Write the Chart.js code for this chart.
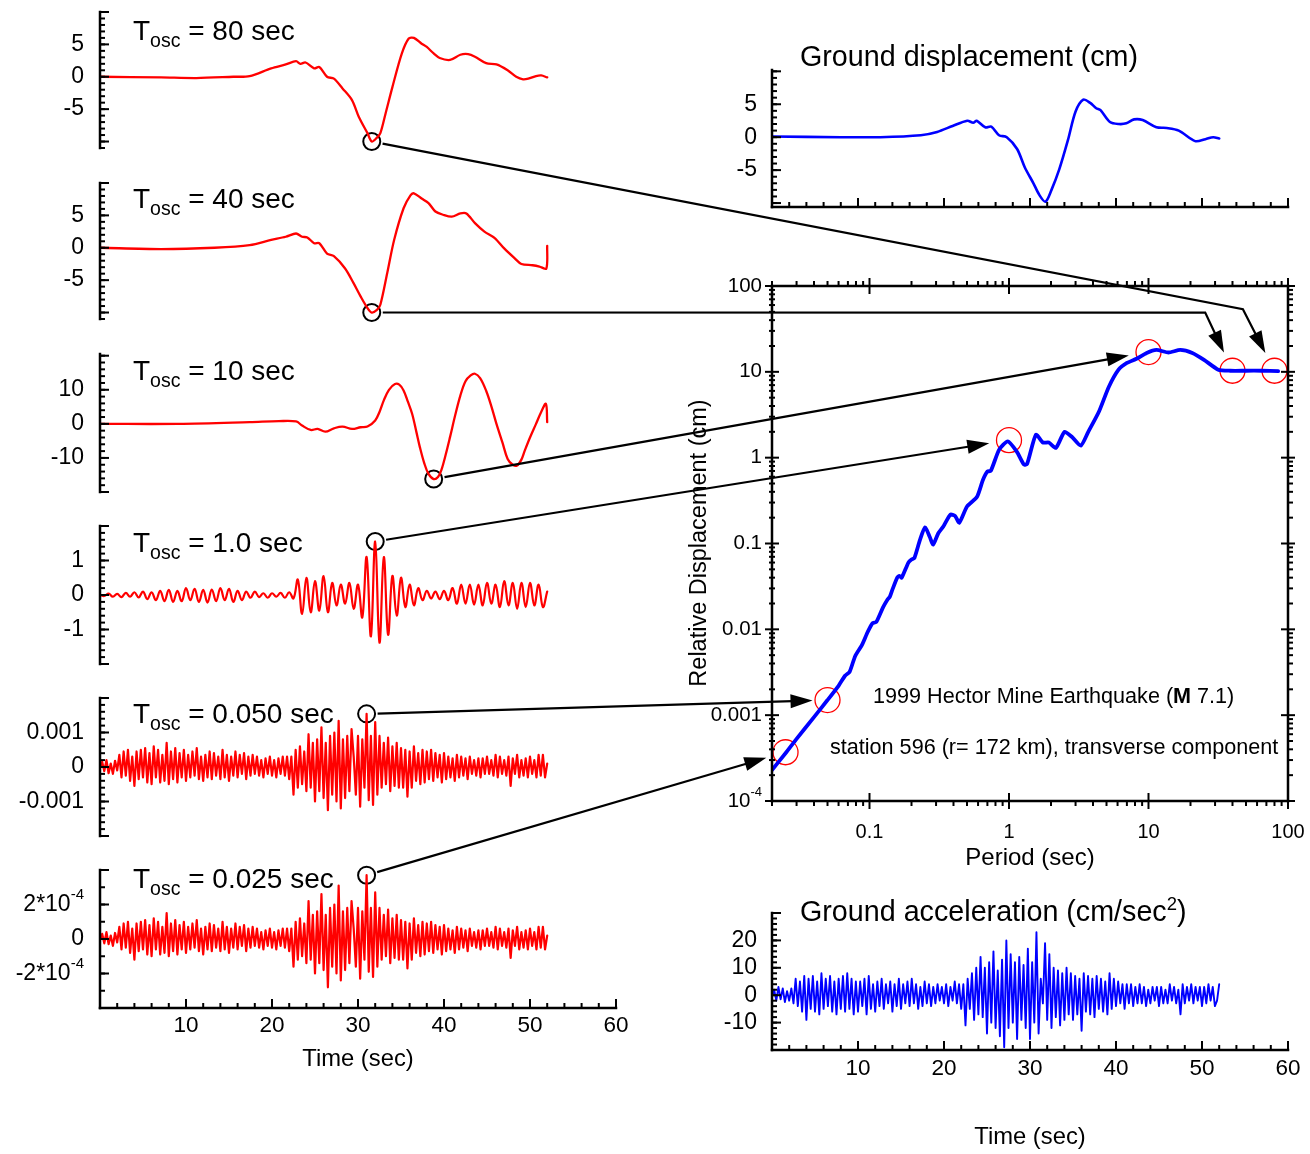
<!DOCTYPE html>
<html>
<head>
<meta charset="utf-8">
<script src="https://cdn.jsdelivr.net/npm/chart.js"></script>
<style>
html, body { margin: 0; padding: 0; background: #fff; }
#stage { position: relative; width: 1310px; height: 1154px; overflow: hidden; background: #fff; }
#stage canvas { position: absolute; left: 0; top: 0; }
</style>
</head>
<body>
<div id="stage"></div>
<script>
// ---- data ----

// oscillator periods of the left column
var oscLabels = ['80 sec', '40 sec', '10 sec', '1.0 sec', '0.050 sec', '0.025 sec'];

// Tosc = 80 s, relative displacement (cm)
var t80 = [0, 7.1, 11.2, 15.5, 17.4, 19.9, 21.6, 22.8, 23.3, 23.9, 24.9, 25.5, 26.4, 27.2, 28.2, 29.3, 30.1, 31.1, 31.6, 32.2, 32.6, 33.2, 34.0, 35.1, 35.9, 36.5, 37.4, 38.0, 38.8, 39.5, 40.7, 41.9, 42.8, 43.6, 44.9, 46.1, 47.4, 48.4, 49.2, 49.8, 50.7, 51.3, 52.0];
var d80 = [0, -0.1, -0.2, 0, 0.1, 1.3, 1.9, 2.4, 2.0, 2.2, 1.3, 1.5, 0, -0.3, -1.8, -3.6, -6.2, -8.7, -10.0, -9.4, -8.7, -5.7, -1.6, 3.6, 5.9, 6.0, 5.1, 4.6, 3.6, 2.9, 2.6, 3.4, 3.5, 3.1, 2.1, 1.9, 1.0, 0, -0.4, -0.3, 0.1, 0.2, -0.1];

// Tosc = 40 s
var t40 = [0, 7.1, 13.3, 17.4, 19.9, 21.6, 22.8, 23.5, 24.1, 24.9, 25.5, 26.4, 27.2, 28.5, 29.5, 30.3, 31.1, 31.6, 32.2, 32.6, 33.4, 34.2, 35.3, 36.1, 36.5, 37.4, 38.2, 39.0, 39.9, 40.9, 41.9, 42.6, 43.6, 44.7, 45.9, 47.0, 48.2, 49.0, 50.3, 51.1, 51.9, 52.0];
var d40 = [0, -0.2, 0, 0.4, 1.2, 1.7, 2.2, 1.7, 1.6, 0.7, 0.7, -0.9, -1.3, -3.2, -5.5, -7.5, -9.3, -10.0, -9.6, -8.8, -3.9, 1.2, 6.1, 8.1, 8.4, 7.6, 6.9, 5.6, 5.1, 4.8, 5.3, 5.3, 3.8, 2.5, 1.5, -0.1, -1.6, -2.5, -2.7, -2.9, -3.2, 0.3];

// Tosc = 10 s
var t10 = [0, 9.1, 17.4, 20.8, 22.8, 23.5, 24.5, 25.3, 26.2, 27.2, 28.2, 29.3, 30.3, 31.1, 32.0, 32.5, 33.0, 33.6, 34.3, 34.8, 35.3, 35.8, 36.3, 36.8, 37.2, 37.7, 38.2, 38.8, 39.3, 39.7, 40.2, 40.7, 41.3, 41.9, 42.5, 43.1, 43.6, 44.2, 44.9, 45.5, 46.1, 46.8, 47.4, 48.0, 48.5, 49.0, 49.4, 50.0, 50.7, 51.3, 51.85, 52.0];
var d10 = [0, 0, 0.5, 0.8, 0.7, -0.5, -1.8, -1.5, -2.3, -1.3, -0.8, -1.5, -1.0, -0.8, 1.0, 3.5, 6.9, 10.0, 11.7, 11.5, 9.8, 6.5, 2.9, -2.5, -6.9, -11.5, -14.7, -16.2, -15.6, -13.5, -9.0, -3.9, 2.5, 8.3, 12.5, 14.2, 14.7, 13.4, 9.7, 5.2, 0, -5.5, -10.3, -12.0, -12.2, -10.5, -7.8, -4.0, 0, 3.5, 5.9, 0.5];

// Tosc = 1.0 s, one value every 0.5 s
var dt1 = 0.5;
var d1 = [0, -0.03, 0.04, -0.05, 0.03, -0.06, 0.06, -0.05, 0.08, -0.07,
  0.1, -0.12, 0.08, -0.15, 0.12, -0.18, 0.15, -0.2, 0.12, -0.18,
  0.2, -0.15, 0.18, -0.2, 0.15, -0.22, 0.16, -0.18, 0.2, -0.15,
  0.18, -0.2, 0.12, -0.15, 0.1, -0.08, 0.1, -0.06, 0.05, -0.08,
  0.05, -0.05, 0.06, -0.08, 0.08, -0.1, 0.45, -0.55, 0.5, -0.5,
  0.4, -0.45, 0.55, -0.5, 0.35, -0.3, 0.3, -0.25, 0.35, -0.4,
  0.3, -0.65, 1.1, -1.2, 1.55, -1.38, 1.1, -1.15, 0.55, -0.6,
  0.5, -0.35, 0.3, -0.3, 0.2, -0.15, 0.12, -0.1, 0.1, -0.12,
  0.12, -0.15, 0.2, -0.25, 0.3, -0.25, 0.3, -0.28, 0.3, -0.3,
  0.35, -0.25, 0.3, -0.35, 0.4, -0.3, 0.35, -0.4, 0.35, -0.35,
  0.35, -0.3, 0.3, -0.35, 0.1];

// fast traces, one value every 0.25 s
var dtFast = 0.25;
// Tosc = 0.050 s, in units of 0.001 cm
var d005 = [0, 0.15, -0.12, 0.2, -0.18, 0.1, -0.2, 0.18, -0.1, 0.35, -0.3, 0.45, -0.25, 0.5, -0.4, 0.3, -0.55, 0.45, -0.35, 0.5,
  -0.3, 0.55, -0.45, 0.4, -0.5, 0.6, -0.3, 0.5, -0.45, 0.35, -0.4, 0.7, -0.5, 0.45, -0.35, 0.55, -0.45, 0.4, -0.3, 0.5,
  -0.4, 0.35, -0.3, 0.45, -0.25, 0.55, -0.35, 0.3, -0.4, 0.35, -0.3, 0.45, -0.35, 0.4, -0.25, 0.3, -0.35, 0.5, -0.3, 0.35,
  -0.4, 0.3, -0.25, 0.45, -0.3, 0.35, -0.2, 0.4, -0.35, 0.3, -0.25, 0.35, -0.2, 0.3, -0.25, 0.2, -0.3, 0.25, -0.2, 0.3,
  -0.25, 0.2, -0.3, 0.25, -0.2, 0.3, -0.25, 0.3, -0.35, 0.3, -0.8, 0.5, -0.6, 0.6, -0.5, 0.45, -0.7, 0.95, -0.6, 0.7,
  -1.0, 0.8, -0.7, 1.15, -0.9, 0.7, -1.25, 0.9, -0.8, 1.0, -1.0, 1.34, -1.2, 0.8, -0.9, 0.9, -0.7, 1.1, 0.3, -0.8,
  0.9, -1.15, 0.8, -0.6, 1.54, -0.96, 0.9, -1.1, 1.3, -0.8, 0.9, -0.6, 0.7, -0.5, 0.85, -0.7, 0.6, -0.55, 0.7, -0.6,
  0.55, -0.6, 0.5, -0.86, 0.45, -0.6, 0.6, -0.4, 0.4, -0.5, 0.5, -0.45, 0.45, -0.35, 0.5, -0.4, 0.4, -0.3, 0.35, -0.45,
  0.4, -0.35, 0.3, -0.3, 0.25, -0.4, 0.35, -0.3, 0.3, -0.25, 0.25, -0.35, 0.3, -0.2, 0.2, -0.25, 0.25, -0.3, 0.25, -0.2,
  0.3, -0.2, 0.2, -0.25, 0.35, -0.3, 0.3, -0.2, 0.2, -0.25, 0.3, -0.55, 0.25, -0.2, 0.35, -0.3, 0.2, -0.25, 0.25, -0.3,
  0.3, -0.2, 0.2, -0.3, 0.35, -0.25, 0.35, -0.3, 0.1];
// Tosc = 0.025 s, in units of 1e-4 cm
var d0025 = [0, 0.3, -0.25, 0.4, -0.3, 0.2, -0.4, 0.35, -0.2, 0.7, -0.6, 0.9, -0.5, 1.0, -0.8, 0.6, -1.2, 0.9, -0.7, 1.0,
  -0.6, 1.1, -0.9, 0.8, -1.0, 1.2, -0.6, 1.0, -0.9, 0.7, -0.8, 1.5, -1.0, 0.9, -0.7, 1.1, -0.9, 0.8, -0.6, 1.0,
  -0.8, 0.7, -0.6, 0.9, -0.5, 1.1, -0.7, 0.6, -0.9, 0.7, -0.6, 0.9, -0.7, 0.8, -0.5, 0.6, -0.7, 1.0, -0.6, 0.7,
  -0.8, 0.6, -0.5, 0.9, -0.6, 0.7, -0.4, 0.8, -0.7, 0.6, -0.5, 0.7, -0.4, 0.6, -0.5, 0.4, -0.6, 0.5, -0.4, 0.6,
  -0.5, 0.4, -0.6, 0.5, -0.4, 0.6, -0.5, 0.6, -0.7, 0.6, -1.6, 1.0, -1.2, 1.2, -1.0, 0.9, -1.4, 2.2, -1.2, 1.4,
  -2.0, 1.6, -1.4, 2.6, -1.8, 1.4, -2.8, 1.8, -1.6, 2.0, -2.0, 3.1, -2.4, 1.6, -1.8, 1.8, -1.4, 2.2, 0.6, -1.6,
  1.8, -2.3, 1.6, -1.2, 3.7, -1.9, 1.8, -2.2, 2.7, -1.6, 1.8, -1.2, 1.4, -1.0, 1.7, -1.4, 1.2, -1.1, 1.4, -1.2,
  1.1, -1.2, 1.0, -1.7, 0.9, -1.2, 1.2, -0.8, 0.8, -1.0, 1.0, -0.9, 0.9, -0.7, 1.0, -0.8, 0.8, -0.6, 0.7, -0.9,
  0.8, -0.7, 0.6, -0.6, 0.5, -0.8, 0.7, -0.6, 0.6, -0.5, 0.5, -0.7, 0.6, -0.4, 0.4, -0.5, 0.5, -0.6, 0.5, -0.4,
  0.6, -0.4, 0.4, -0.5, 0.7, -0.6, 0.6, -0.4, 0.4, -0.5, 0.6, -1.1, 0.5, -0.4, 0.7, -0.6, 0.4, -0.5, 0.5, -0.6,
  0.6, -0.4, 0.4, -0.6, 0.7, -0.5, 0.7, -0.6, 0.2];
// ground acceleration (cm/sec^2)
var acc = [0, 2, -2, 3, -1.5, 2.5, -2.5, 1.5, -2, 2.5, -3, 6, -4, 5, -6, 7, -9, 6, -5, 7,
  -6, 5, -7, 8, -5, 6, -4, 7, -6, 5, -7, 6, -5, 7, -6, 8, -5, 6, -7, 5,
  -6, 5, -4, 6, -7, 7, -5, 4, -6, 5, -4, 6, -5, 4, -3, 5, -6, 4, -4, 6,
  -5, 4, -3, 5, -4, 6, -3, 4, -5, 3, -4, 5, -3, 4, -4, 3, -3, 4, -2, 3,
  -3, 4, -4, 3, -2, 5, -3, 4, -5, 4, -11, 6, -5, 8, -9, 10, -7, 14, -8, 10,
  -14, 12, -10, 16, -12, 9, -15, 13, -19, 20, -12, 15, -10, 12, -16, 14, -9, 11, -12, 17,
  -16, 12, -10, 23, -14, 6, -3, 19, -9, 15, -12, 10, -8, 9, -11, 8, -9, 10, -7, 8,
  -9, 7, -7, 6, -13, 8, -6, 7, -7, 6, -8, 7, -5, 6, -6, 5, -7, 8, -5, 6,
  -4, 5, -3, 4, -5, 4, -3, 4, -4, 3, -3, 4, -3, 3, -4, 2, -3, 3, -2, 3,
  -4, 3, -3, 2, -3, 4, -2, 3, -3, 2, -7, 4, -3, 3, -2, 4, -3, 3, -2, 3,
  -4, 3, -3, 4, -2, 3, -4, -2, 4];

// ground displacement (cm)
var tGd = [0, 8.0, 12.6, 17.3, 19.2, 21.0, 22.7, 23.4, 23.8, 24.8, 25.5, 26.4, 27.3, 28.5, 29.4, 30.4, 31.1, 31.8, 32.5, 33.4, 34.4, 35.3, 36.2, 37.0, 37.7, 38.2, 39.3, 40.3, 41.2, 42.1, 43.1, 44.7, 45.9, 47.3, 49.2, 50.4, 51.3, 52.0];
var gd = [0.1, 0, 0, 0.3, 0.8, 1.7, 2.5, 2.2, 2.5, 1.5, 1.6, 0.3, 0, -1.8, -4.6, -7.0, -8.8, -9.8, -8.0, -4.9, -0.5, 3.9, 5.7, 5.2, 4.4, 4.1, 2.3, 2.0, 2.1, 2.7, 2.6, 1.5, 1.4, 1.0, -0.6, -0.3, 0, -0.2];

// response spectrum: period (sec) and relative displacement (cm)
var specT = [0.02, 0.025, 0.03, 0.04, 0.05, 0.06, 0.067, 0.072, 0.079, 0.088,
  0.097, 0.105, 0.112, 0.125, 0.134, 0.14, 0.146, 0.158, 0.164, 0.17,
  0.19, 0.2, 0.21, 0.23, 0.25, 0.27, 0.286, 0.31, 0.34, 0.38,
  0.41, 0.44, 0.5, 0.59, 0.65, 0.7, 0.74, 0.85, 0.98, 1.14,
  1.28, 1.35, 1.56, 1.75, 1.93, 2.17, 2.5, 2.82, 3.27, 3.7,
  4.4, 5.2, 6.1, 7.0, 8.2, 9.7, 11.4, 13.9, 16.9, 20.6,
  25, 31.6, 38.5, 50, 65, 85];
var specSD = [2.3e-4, 3.6e-4, 5.3e-4, 9.5e-4, 1.5e-3, 2.2e-3, 2.9e-3, 3.2e-3, 4.9e-3, 6.5e-3,
  9.3e-3, 0.0118, 0.0122, 0.018, 0.022, 0.024, 0.029, 0.04, 0.042, 0.04,
  0.06, 0.065, 0.068, 0.11, 0.154, 0.12, 0.097, 0.13, 0.16, 0.217,
  0.21, 0.175, 0.27, 0.35, 0.55, 0.69, 0.7, 1.24, 1.55, 1.17,
  0.83, 0.85, 1.85, 1.5, 1.5, 1.3, 2.0, 1.75, 1.38, 2.0,
  3.4, 6.7, 10.6, 12.7, 14.2, 16.6, 18, 16.8, 18, 16.6,
  13.8, 10.6, 10.3, 10.3, 10.3, 10.2];

// peak of each oscillator trace (black circles), same units as the traces
var markT = [31.6, 31.6, 38.8, 32.0, 31.0, 31.0];
var markV = [-10, -10, -16.2, 1.55, 1.54, 3.7];
// the same peaks on the spectrum (red circles)
var markP = [80, 40, 10, 1.0, 0.05, 0.025];
var markSD = [10.3, 10.3, 17, 1.6, 1.5e-3, 3.7e-4];
// bends of the two upper leader lines (period, cm) and the gap left before each red circle
var leaderBend = [[47.5, 53.6], [25.5, 49], null, null, null, null];
var leaderGap = [20, 20, 20, 20, 15, 20];

// tick labels
var timeTicks = [10, 20, 30, 40, 50, 60];
var timeText = ['10', '20', '30', '40', '50', '60'];
var oscTickVals = [[5, 0, -5], [5, 0, -5], [10, 0, -10], [1, 0, -1], [1, 0, -1], [2, 0, -2]];
var oscTickText = [['5', '0', '-5'], ['5', '0', '-5'], ['10', '0', '-10'], ['1', '0', '-1'], ['0.001', '0', '-0.001'], ['2*10^-4', '0', '-2*10^-4']];
var gdTickVals = [5, 0, -5], gdTickText = ['5', '0', '-5'];
var accTickVals = [20, 10, 0, -10], accTickText = ['20', '10', '0', '-10'];
var sdTickVals = [100, 10, 1, 0.1, 0.01, 0.001, 1e-4];
var sdTickText = ['100', '10', '1', '0.1', '0.01', '0.001', '10^-4'];
var perTickVals = [0.1, 1, 10, 100], perTickText = ['0.1', '1', '10', '100'];

// ---- drawing ----
var W = 1310, H = 1154;
var FONT = '"Liberation Sans", Arial, Helvetica, sans-serif';
var stage = document.getElementById('stage');

function steps(a, b, s) {
  var out = [];
  for (var v = a; v <= b + s / 1000; v += s) out.push(+v.toFixed(6));
  return out;
}
function decades(lo, hi) {
  var out = [];
  for (var e = lo; e < hi; e++) for (var m = 2; m <= 9; m++) out.push(+(m * Math.pow(10, e)).toPrecision(3));
  return out;
}
function pairs(ts, vs) { return vs.map(function (v, i) { return { x: ts[i], y: v }; }); }
function even(dt, vs) { return vs.map(function (v, i) { return { x: i * dt, y: v }; }); }

// text with an optional ^superscript
function rich(ctx, str, size, x, y, align) {
  var parts = str.split('^');
  var ss = Math.round(size * 0.65);
  ctx.font = size + 'px ' + FONT;
  var wb = ctx.measureText(parts[0]).width, ws = 0;
  if (parts[1]) { ctx.font = ss + 'px ' + FONT; ws = ctx.measureText(parts[1]).width; }
  var x0 = align === 'right' ? x - wb - ws : align === 'center' ? x - (wb + ws) / 2 : x;
  ctx.textAlign = 'left';
  ctx.font = size + 'px ' + FONT;
  ctx.fillText(parts[0], x0, y);
  if (parts[1]) { ctx.font = ss + 'px ' + FONT; ctx.fillText(parts[1], x0 + wb, y - size * 0.42); }
}

function spans(ctx, t) {
  ctx.save();
  ctx.translate(t.x, t.y);
  if (t.rot) ctx.rotate(t.rot);
  ctx.textBaseline = t.base || 'alphabetic';
  ctx.textAlign = 'left';
  var fontOf = function (p) { return (p[3] ? 'bold ' : '') + p[1] + 'px ' + FONT; };
  var w = 0;
  t.parts.forEach(function (p) { ctx.font = fontOf(p); w += ctx.measureText(p[0]).width; });
  var x = t.align === 'center' ? -w / 2 : 0;
  t.parts.forEach(function (p) {
    ctx.font = fontOf(p);
    ctx.fillText(p[0], x, p[2] || 0);
    x += ctx.measureText(p[0]).width;
  });
  ctx.restore();
}

function drawAxis(ctx, chart, ax) {
  var a = chart.chartArea;
  var vert = ax.pos === 'left' || ax.pos === 'right';
  var sc = vert ? chart.scales.y : chart.scales.x;
  var base = a[ax.pos];
  var inw = (ax.pos === 'left' || ax.pos === 'top') ? 1 : -1;
  var lw = ax.lw || 2.5;
  ctx.lineWidth = lw;
  ctx.beginPath();
  if (vert) { ctx.moveTo(base, a.top - lw / 2); ctx.lineTo(base, a.bottom + lw / 2); }
  else { ctx.moveTo(a.left - lw / 2, base); ctx.lineTo(a.right + lw / 2, base); }
  ctx.stroke();
  ctx.lineWidth = ax.tw || 2;
  function tick(v, len, mode) {
    var p = sc.getPixelForValue(v);
    var r = mode === 'in' ? [0, len] : mode === 'out' ? [-len, 0] : [-len, len];
    ctx.beginPath();
    if (vert) { ctx.moveTo(base + inw * r[0], p); ctx.lineTo(base + inw * r[1], p); }
    else { ctx.moveTo(p, base + inw * r[0]); ctx.lineTo(p, base + inw * r[1]); }
    ctx.stroke();
  }
  (ax.minor || []).forEach(function (v) { tick(v, ax.minLen || 5, ax.minMode || ax.mode); });
  (ax.major || []).forEach(function (v) { tick(v, ax.majLen || 9, ax.mode); });
  if (ax.labels) {
    ctx.textBaseline = 'middle';
    ax.labels[0].forEach(function (v, i) {
      var p = sc.getPixelForValue(v);
      if (vert) rich(ctx, ax.labels[1][i], ax.size, base - ax.gap, p, 'right');
      else rich(ctx, ax.labels[1][i], ax.size, p, base + ax.gap, 'center');
    });
  }
}

function framePlugin(cfg) {
  return {
    id: 'frame',
    afterDraw: function (chart) {
      var ctx = chart.ctx;
      ctx.save();
      ctx.strokeStyle = '#000';
      ctx.fillStyle = '#000';
      ctx.lineCap = 'butt';
      (cfg.axes || []).forEach(function (ax) { drawAxis(ctx, chart, ax); });
      (cfg.texts || []).forEach(function (t) { spans(ctx, t); });
      ctx.restore();
    }
  };
}

function plot(rect, xs, ys, datasets, cfg) {
  var c = document.createElement('canvas');
  c.width = W; c.height = H;
  stage.appendChild(c);
  return new Chart(c, {
    type: 'line',
    data: { datasets: datasets },
    options: {
      responsive: false, animation: false, events: [], devicePixelRatio: 1,
      layout: { padding: { left: rect[0], top: rect[1], right: W - rect[2], bottom: H - rect[3] } },
      scales: { x: Object.assign({ display: false }, xs), y: Object.assign({ display: false }, ys) },
      plugins: { legend: { display: false }, tooltip: { enabled: false } },
      elements: { point: { radius: 0 } }
    },
    plugins: [framePlugin(cfg)]
  });
}

function trace(data, color, width, tension) {
  return { data: data, borderColor: color, borderWidth: width, tension: tension, pointRadius: 0,
    fill: false, borderJoinStyle: 'round', borderCapStyle: 'round' };
}
function rings(data, color, r, w) {
  return { data: data, showLine: false, pointRadius: r, pointHoverRadius: r, pointStyle: 'circle',
    pointBorderColor: color, pointBackgroundColor: 'rgba(0,0,0,0)', pointBorderWidth: w,
    borderColor: color, clip: false };
}

// left column: oscillator responses
var RED = '#ff0000', BLUE = '#0000ff';
var oscRects = [[100, 12, 616, 148], [100, 183, 616, 319], [100, 354, 616, 492], [100, 526, 616, 664], [100, 698, 616, 836], [100, 870, 616, 1008]];
var oscRange = [[-11, 10], [-11, 10], [-20, 20.5], [-2, 2], [-2, 2], [-4, 4]];
var oscMajor = [steps(-10, 10, 5), steps(-10, 10, 5), steps(-20, 20, 10), steps(-2, 2, 1), steps(-2, 2, 1), steps(-4, 4, 2)];
var oscMinor = [steps(-11, 10, 1), steps(-11, 10, 1), steps(-20, 20, 2), steps(-2, 2, 0.2), steps(-2, 2, 0.2), steps(-4, 4, 1)];
var oscTitleY = [40, 208, 380, 552, 723, 888];
var oscData = [pairs(t80, d80), pairs(t40, d40), pairs(t10, d10), even(dt1, d1), even(dtFast, d005), even(dtFast, d0025)];
var oscWidth = [2.3, 2.3, 2.3, 2.2, 2.2, 2.2];
var oscTension = [0.3, 0.3, 0.35, 0.4, 0, 0];

var oscCharts = oscData.map(function (data, k) {
  var axes = [{ pos: 'left', major: oscMajor[k], minor: oscMinor[k], mode: 'in', majLen: 9, minLen: 5,
    labels: [oscTickVals[k], oscTickText[k]], size: 23, gap: 16 }];
  var texts = [{ x: 133, y: oscTitleY[k], parts: [['T', 28], ['osc', 19.5, 7], [' = ' + oscLabels[k], 28]] }];
  if (k === 5) {
    axes.push({ pos: 'bottom', major: timeTicks, minor: steps(0, 60, 2), mode: 'in', majLen: 9, minLen: 5,
      labels: [timeTicks, timeText], size: 22.5, gap: 18 });
    texts.push({ x: 358, y: 1059, align: 'center', base: 'middle', parts: [['Time (sec)', 23.8]] });
  }
  return plot(oscRects[k], { type: 'linear', min: 0, max: 60 }, { type: 'linear', min: oscRange[k][0], max: oscRange[k][1] },
    [trace(data, RED, oscWidth[k], oscTension[k]), rings([{ x: markT[k], y: markV[k] }], '#000', 8.5, 2)],
    { axes: axes, texts: texts });
});

// ground displacement
plot([772, 70, 1288, 207], { type: 'linear', min: 0, max: 60 }, { type: 'linear', min: -10.6, max: 10.2 },
  [trace(pairs(tGd, gd), BLUE, 2.6, 0.3)],
  { axes: [
      { pos: 'left', major: steps(-10, 10, 5), minor: steps(-10, 10, 1), mode: 'in', labels: [gdTickVals, gdTickText], size: 23, gap: 15 },
      { pos: 'bottom', major: timeTicks, minor: steps(0, 60, 2), mode: 'in' }],
    texts: [{ x: 800, y: 66, parts: [['Ground displacement (cm)', 28.7]] }] });

// response spectrum
var spec = plot([772, 286, 1288, 801], { type: 'logarithmic', min: 0.02, max: 100 }, { type: 'logarithmic', min: 1e-4, max: 100 },
  [trace(pairs(specT, specSD), BLUE, 3.8, 0.2),
   rings(markP.map(function (p, i) { return { x: p, y: markSD[i] }; }), RED, 12.5, 1.3)],
  { axes: [
      { pos: 'left', major: sdTickVals, minor: decades(-4, 2), mode: 'both', minMode: 'both', majLen: 7, minLen: 3,
        labels: [sdTickVals, sdTickText], size: 20.5, gap: 10 },
      { pos: 'right', major: sdTickVals, minor: decades(-4, 2), mode: 'both', minMode: 'out', majLen: 7, minLen: 5 },
      { pos: 'bottom', major: perTickVals, minor: decades(-2, 2), mode: 'both', minMode: 'out', majLen: 8, minLen: 5,
        labels: [perTickVals, perTickText], size: 20, gap: 31 },
      { pos: 'top', major: perTickVals, minor: decades(-2, 2), mode: 'both', minMode: 'out', majLen: 8, minLen: 5 }],
    texts: [
      { x: 700, y: 543, rot: -Math.PI / 2, align: 'center', base: 'middle', parts: [['Relative Displacement (cm)', 23.5]] },
      { x: 1030, y: 858, align: 'center', base: 'middle', parts: [['Period (sec)', 24]] },
      { x: 873, y: 703, parts: [['1999 Hector Mine Earthquake (', 21.6], ['M', 21.6, 0, true], [' 7.1)', 21.6]] },
      { x: 830, y: 754, parts: [['station 596 (r= 172 km), transverse component', 21.6]] }] });

// ground acceleration
plot([772, 913, 1288, 1050], { type: 'linear', min: 0, max: 60 }, { type: 'linear', min: -20, max: 30 },
  [trace(even(dtFast, acc), BLUE, 1.9, 0)],
  { axes: [
      { pos: 'left', major: steps(-20, 30, 10), minor: steps(-20, 30, 2), mode: 'in', labels: [accTickVals, accTickText], size: 23, gap: 15 },
      { pos: 'bottom', major: timeTicks, minor: steps(0, 60, 2), mode: 'in', labels: [timeTicks, timeText], size: 22.5, gap: 19 }],
    texts: [
      { x: 800, y: 921, parts: [['Ground acceleration (cm/sec', 28.7], ['2', 18.5, -11], [')', 28.7]] },
      { x: 1030, y: 1137, align: 'center', base: 'middle', parts: [['Time (sec)', 23.8]] }] });

// leader arrows from each oscillator peak to its spectral value
(function () {
  var c = document.createElement('canvas');
  c.width = W; c.height = H;
  stage.appendChild(c);
  var ctx = c.getContext('2d');
  ctx.strokeStyle = '#000'; ctx.fillStyle = '#000'; ctx.lineWidth = 2.2; ctx.lineJoin = 'miter';
  var sx = spec.scales.x, sy = spec.scales.y;
  function unit(a, b) { var dx = b[0] - a[0], dy = b[1] - a[1], L = Math.hypot(dx, dy); return [dx / L, dy / L]; }
  markT.forEach(function (t, k) {
    var ch = oscCharts[k];
    var p0 = [ch.scales.x.getPixelForValue(t), ch.scales.y.getPixelForValue(markV[k])];
    var end = [sx.getPixelForValue(markP[k]), sy.getPixelForValue(markSD[k])];
    var pts = [p0];
    if (leaderBend[k]) pts.push([sx.getPixelForValue(leaderBend[k][0]), sy.getPixelForValue(leaderBend[k][1])]);
    pts.push(end);
    var n = pts.length;
    var u0 = unit(pts[0], pts[1]);
    var start = [p0[0] + u0[0] * 11, p0[1] + u0[1] * 11];
    var u1 = unit(pts[n - 2], end);
    var tip = [end[0] - u1[0] * leaderGap[k], end[1] - u1[1] * leaderGap[k]];
    var hl = 22, hw = 7;
    var neck = [tip[0] - u1[0] * hl, tip[1] - u1[1] * hl];
    ctx.beginPath();
    ctx.moveTo(start[0], start[1]);
    for (var i = 1; i < n - 1; i++) ctx.lineTo(pts[i][0], pts[i][1]);
    ctx.lineTo(neck[0] + u1[0] * 2, neck[1] + u1[1] * 2);
    ctx.stroke();
    ctx.beginPath();
    ctx.moveTo(tip[0], tip[1]);
    ctx.lineTo(neck[0] - u1[1] * hw, neck[1] + u1[0] * hw);
    ctx.lineTo(neck[0] + u1[1] * hw, neck[1] - u1[0] * hw);
    ctx.closePath();
    ctx.fill();
  });
})();
</script>
</body>
</html>
